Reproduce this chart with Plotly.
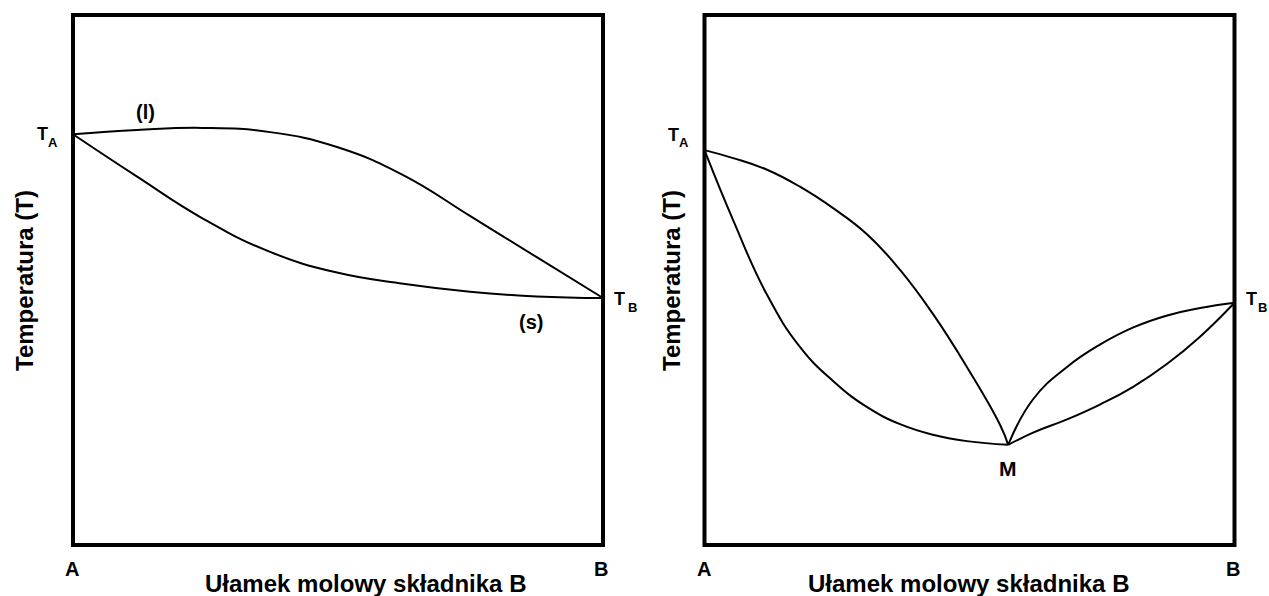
import plotly.graph_objects as go

W, H = 1269, 596

# ---- data (mole fraction of B, temperature in arbitrary units 0..100) ----
left_liq_x = [0.0, 0.121, 0.245, 0.372, 0.498, 0.623, 0.749, 0.875, 1.0]
left_liq_T = [77.5, 78.3, 78.7, 77.9, 75.1, 69.8, 62.1, 54.3, 46.6]
left_sol_x = [0.0, 0.121, 0.245, 0.372, 0.498, 0.623, 0.749, 0.875, 1.0]
left_sol_T = [77.5, 69.5, 61.6, 55.3, 51.4, 49.3, 47.8, 46.9, 46.6]

r_upl_x = [0.0, 0.054, 0.118, 0.180, 0.242, 0.307, 0.369, 0.431, 0.495, 0.558, 0.573]
r_upl_T = [74.5, 73.0, 70.8, 67.6, 63.6, 58.6, 51.9, 43.6, 33.6, 22.6, 18.9]
r_lol_x = [0.0, 0.054, 0.118, 0.180, 0.242, 0.307, 0.369, 0.431, 0.495, 0.573]
r_lol_T = [74.5, 61.3, 47.2, 37.4, 31.0, 26.0, 22.8, 20.8, 19.6, 18.9]
r_upr_x = [0.573, 0.620, 0.684, 0.746, 0.808, 0.873, 0.935, 1.0]
r_upr_T = [18.9, 27.5, 33.6, 37.8, 41.0, 43.3, 44.7, 45.7]
r_lor_x = [0.573, 0.620, 0.684, 0.746, 0.808, 0.873, 0.935, 1.0]
r_lor_T = [18.9, 21.2, 23.7, 26.5, 29.8, 34.2, 39.3, 45.7]

x_title = "Ułamek molowy składnika B"
y_title = "Temperatura (T)"

FONT = "Liberation Sans, Arial, sans-serif"

# ---- layout geometry (pixels) ----
box_top, box_bot = 15, 545
left_box = (73, 603)
right_box = (704.5, 1234.5)
XPAD, YPAD = 0.02, 2.0
unit_x = (left_box[1] - left_box[0])
unit_y = (box_bot - box_top) / 100.0

def xdomain(box):
    l = box[0] - XPAD * unit_x
    r = box[1] + XPAD * unit_x
    return [l / W, r / W]

top_px = box_top - YPAD * unit_y
bot_px = box_bot + YPAD * unit_y
ydom = [1 - bot_px / H, 1 - top_px / H]

def px(x):
    return x / W

def py(y):
    return 1 - y / H

fig = go.Figure()
line = dict(color="black", width=2, shape="spline", smoothing=1.3)
for xs, ts, ax in [
    (left_liq_x, left_liq_T, ("x", "y")),
    (left_sol_x, left_sol_T, ("x", "y")),
    (r_upl_x, r_upl_T, ("x2", "y2")),
    (r_lol_x, r_lol_T, ("x2", "y2")),
    (r_upr_x, r_upr_T, ("x2", "y2")),
    (r_lor_x, r_lor_T, ("x2", "y2")),
]:
    fig.add_trace(go.Scatter(x=xs, y=ts, mode="lines", line=line,
                             xaxis=ax[0], yaxis=ax[1], showlegend=False,
                             hoverinfo="skip"))

axis_common = dict(showgrid=False, zeroline=False, showticklabels=False,
                   ticks="", showline=False)
fig.update_layout(
    width=W, height=H,
    margin=dict(l=0, r=0, t=0, b=0),
    paper_bgcolor="white", plot_bgcolor="white",
    xaxis=dict(domain=xdomain(left_box), range=[-XPAD, 1 + XPAD], **axis_common),
    yaxis=dict(domain=ydom, range=[-YPAD, 100 + YPAD], **axis_common),
    xaxis2=dict(domain=xdomain(right_box), range=[-XPAD, 1 + XPAD], anchor="y2", **axis_common),
    yaxis2=dict(domain=ydom, range=[-YPAD, 100 + YPAD], anchor="x2", **axis_common),
    font=dict(family=FONT, color="black"),
)

for xr, yr in [("x", "y"), ("x2", "y2")]:
    fig.add_shape(type="rect", xref=xr, yref=yr, x0=0, x1=1, y0=0, y1=100,
                  line=dict(color="black", width=4), layer="above")

def ann(text, x, y, size, angle=0):
    fig.add_annotation(text=text, x=px(x), y=py(y), xref="paper", yref="paper",
                       showarrow=False,
                       font=dict(size=size, family=FONT, color="black", weight="bold"),
                       textangle=angle, xanchor="center", yanchor="middle")

# left panel labels
ann("T", 42, 134, 18)
ann("A", 53, 142, 13)
ann("(l)", 145, 112, 20)
ann("(s)", 531, 322, 20)
ann("T", 619, 299, 18)
ann("B", 632, 307, 13)
ann("A", 72, 569, 20)
ann("B", 601, 569, 20)
ann(x_title, 365, 583, 24)
ann(y_title, 24, 281, 24, -90)

# right panel labels
ann("T", 673, 135, 18)
ann("A", 684.5, 142, 13)
ann("T", 1251, 299, 18)
ann("B", 1262.5, 307, 13)
ann("M", 1008, 468, 21)
ann("A", 704, 569, 20)
ann("B", 1233, 569, 20)
ann(x_title, 968, 583, 24)
ann(y_title, 671, 281, 24, -90)

fig.write_html("out.html")
